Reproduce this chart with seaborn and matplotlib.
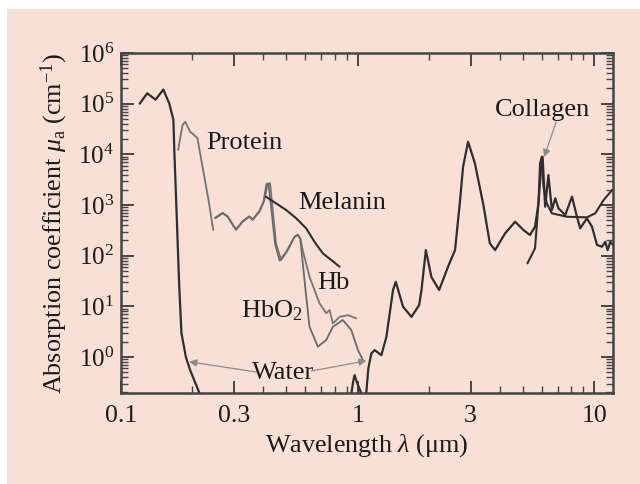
import numpy as np
import pandas as pd
import matplotlib
matplotlib.use("Agg")
import matplotlib.pyplot as plt
import seaborn as sns
from matplotlib import ticker
from matplotlib.patches import Rectangle

# ---------------- data (wavelength in um, absorption in cm^-1) ----------------
water_wl = [0.120, 0.129, 0.140, 0.151, 0.160, 0.1665, 0.168, 0.172, 0.176, 0.180,
            0.188, 0.196, 0.214, 0.23, 0.30, 0.45, 0.60, 0.75, 0.90, 0.94,
            0.958, 0.971, 0.99, 1.037, 1.06, 1.088, 1.11, 1.143, 1.18, 1.26,
            1.323, 1.411, 1.449, 1.556, 1.689, 1.819, 1.862, 1.942, 2.05, 2.21,
            2.41, 2.58, 2.71, 2.79, 2.93, 3.13, 3.40, 3.62, 3.81, 4.20,
            4.63, 5.02, 5.35, 5.62, 5.81, 5.95, 6.05, 6.20, 6.40, 6.62,
            6.84, 7.06, 7.54, 8.05, 8.45, 8.72, 9.31, 9.78, 10.27, 10.78,
            11.13, 11.39, 11.69, 12.0]
water_mu = [1.0e5, 1.6e5, 1.2e5, 1.9e5, 1.0e5, 4.8e4, 1.2e4, 590, 29, 3.0,
            1.0, 0.55, 0.2, 0.1, 0.003, 0.0003, 0.002, 0.02, 0.07, 0.19,
            0.33, 0.44, 0.33, 0.19, 0.13, 0.2, 0.6, 1.18, 1.37, 1.09,
            2.5, 21, 30.6, 9.8, 6.2, 10.6, 21, 129, 38, 21,
            60.5, 129, 1250, 5700, 1.77e4, 6650, 1000, 175, 129, 276,
            468, 321, 256, 373, 1080, 4900, 8970, 925, 3900, 796,
            1355, 860, 634, 1460, 587, 347, 546, 373, 163, 150,
            188, 129, 188, 163]

protein_wl = [0.1744, 0.182, 0.1868, 0.196, 0.2038, 0.2105, 0.221, 0.2344, 0.2453]
protein_mu = [1.22e4, 3.8e4, 4.4e4, 2.8e4, 2.4e4, 2.07e4, 5700, 1250, 321]

hb_wl = [0.250, 0.2687, 0.282, 0.306, 0.3268, 0.3485, 0.36, 0.3844, 0.4037, 0.417,
         0.4268, 0.435, 0.452, 0.475, 0.507, 0.541, 0.5585, 0.572, 0.586, 0.626,
         0.690, 0.737, 0.761, 0.786, 0.839, 0.91, 0.987]
hb_mu = [546, 686, 587, 321, 468, 587, 506, 737, 1250, 2680,
         2680, 1080, 175, 82, 129, 237, 256, 220, 129, 38.4,
         11.5, 7.3, 8.5, 4.6, 6.2, 6.7, 5.8]

hbo2_wl = [0.250, 0.2687, 0.282, 0.306, 0.3268, 0.3485, 0.36, 0.3844, 0.400, 0.412,
           0.420, 0.430, 0.448, 0.468, 0.50, 0.54, 0.5585, 0.572, 0.600, 0.626,
           0.679, 0.737, 0.786, 0.866, 0.94, 1.003, 1.053]
hbo2_mu = [560, 700, 600, 330, 480, 600, 520, 760, 1150, 2600,
           2600, 1000, 170, 80, 120, 230, 260, 220, 25, 3.96,
           1.6, 2.17, 3.96, 5.37, 3.41, 1.37, 0.87]

melanin_wl = [0.41, 0.452, 0.499, 0.55, 0.606, 0.657, 0.713, 0.774, 0.839]
melanin_mu = [1460, 1080, 796, 546, 347, 188, 111, 82, 60.5]

collagen_wl = [5.22, 5.62, 5.81, 5.90, 6.0, 6.10, 6.30, 6.62, 7.66, 9.31, 10.1, 10.95, 11.9]
collagen_mu = [70.7, 140, 1095, 6650, 8970, 2300, 1080, 686, 587, 571, 686, 1250, 1977]

x_ticks = [0.1, 0.3, 1, 3, 10]
x_tick_labels = ["0.1", "0.3", "1", "3", "10"]

# ---------------- style ----------------
sns.set_theme(style="ticks")
plt.rcParams['font.family'] = ['Liberation Serif', 'DejaVu Serif']
plt.rcParams['mathtext.fontset'] = 'custom'
plt.rcParams['mathtext.rm'] = 'Liberation Serif'
plt.rcParams['mathtext.it'] = 'Liberation Serif:italic'
plt.rcParams['mathtext.bf'] = 'Liberation Serif:bold'

BG = '#f8e0d6'
DARK = '#2e2e2e'
GRAY = '#727272'
SPINE = '#444444'
TXT = '#1a1a1a'

fig = plt.figure(figsize=(6.4, 4.84), dpi=100, facecolor='white')
fig.patches.append(Rectangle((7 / 640, 0), 1 - 7 / 640, 1 - 9 / 484,
                             transform=fig.transFigure, facecolor=BG,
                             edgecolor='none', zorder=-10))
ax = fig.add_axes([121 / 640, 1 - 393 / 484, (613 - 121) / 640, (393 - 53) / 484])
ax.set_facecolor(BG)

def draw(wl, mu, color, lw):
    df = pd.DataFrame({'wl': wl, 'mu': mu})
    sns.lineplot(data=df, x='wl', y='mu', ax=ax, color=color, lw=lw,
                 sort=False, estimator=None)

draw(protein_wl, protein_mu, GRAY, 1.3)
draw(hb_wl, hb_mu, '#767676', 1.3)
draw(hbo2_wl, hbo2_mu, '#6a6a6a', 1.3)
draw(melanin_wl, melanin_mu, DARK, 1.5)
draw(collagen_wl, collagen_mu, DARK, 1.5)
draw(water_wl, water_mu, DARK, 1.6)

ax.set_xscale('log')
ax.set_yscale('log')
ax.set_xlim(0.1, 12.0)
ax.set_ylim(0.195, 1e6)

ax.xaxis.set_major_locator(ticker.FixedLocator(x_ticks))
ax.xaxis.set_major_formatter(ticker.FixedFormatter(x_tick_labels))
ax.xaxis.set_minor_locator(ticker.LogLocator(base=10, subs=np.arange(2, 10), numticks=20))
ax.xaxis.set_minor_formatter(ticker.NullFormatter())
ax.yaxis.set_major_locator(ticker.FixedLocator([1e0, 1e1, 1e2, 1e3, 1e4, 1e5, 1e6]))
ax.yaxis.set_minor_locator(ticker.LogLocator(base=10, subs=np.arange(2, 10), numticks=20))
ax.yaxis.set_major_formatter(ticker.FuncFormatter(
    lambda v, p: r'$10^{%d}$' % int(round(np.log10(v)))))
ax.yaxis.set_minor_formatter(ticker.NullFormatter())

ax.tick_params(which='both', direction='in', top=True, right=True,
               colors=SPINE, labelcolor=TXT)
ax.tick_params(axis='x', which='major', labelsize=18.5, pad=9)
ax.tick_params(axis='y', which='major', labelsize=18, pad=5)
ax.tick_params(which='major', length=9, width=1.4)
ax.tick_params(which='minor', length=5, width=1.0)
for s in ax.spines.values():
    s.set_color(SPINE)
    s.set_linewidth(1.8)

ax.set_xlabel(r'Wavelength $\mathit{\lambda}$ (μm)', fontsize=18.8, color=TXT, labelpad=3)
ax.set_ylabel(r'Absorption coefficient $\mathit{\mu}_{\mathrm{a}}$ (cm$^{-1}$)',
              fontsize=18.8, color=TXT, labelpad=6)

txt = dict(fontsize=19, color=TXT, ha='center', va='center')
ax.text(0.332, 1.67e4, 'Protein', **txt)
ax.text(0.864, 1.1e3, 'Melanin', **txt)
ax.text(0.791, 29, 'Hb', **txt)
ax.text(0.432, 8.1, r'HbO$_2$', **txt)
ax.text(0.486, 0.48, 'Water', **txt)
ax.text(6.02, 7.5e4, 'Collagen', **txt)

arr = dict(arrowstyle='-|>', color='#8a8a8a', lw=0.9, mutation_scale=11,
           shrinkA=0, shrinkB=0)
ax.annotate('', xy=(0.194, 0.807), xytext=(0.373, 0.506), arrowprops=arr)
ax.annotate('', xy=(1.089, 0.845), xytext=(0.638, 0.53), arrowprops=arr)
ax.annotate('', xy=(6.14, 8850), xytext=(6.9, 4.35e4), arrowprops=arr)

fig.savefig('out.png', dpi=100, facecolor=fig.get_facecolor())
